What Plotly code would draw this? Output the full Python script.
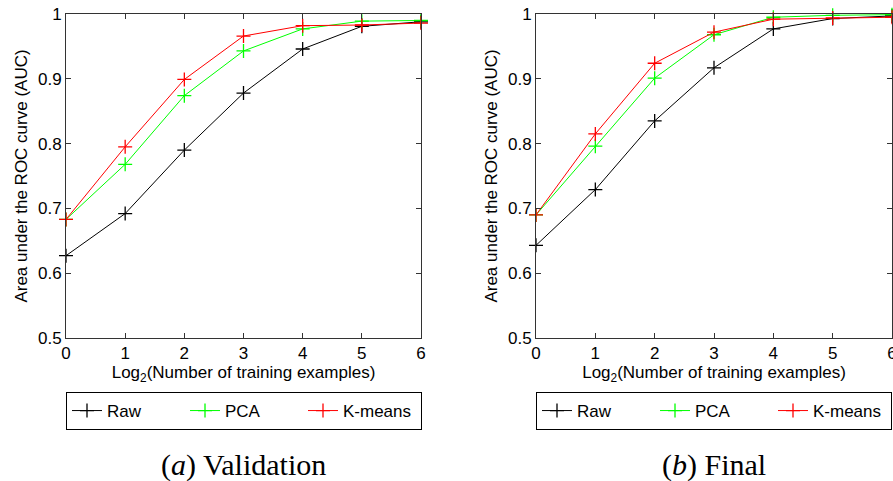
import plotly.graph_objects as go

x_vals = [0, 1, 2, 3, 4, 5, 6]

# (a) Validation
val_raw = [0.627, 0.692, 0.790, 0.878, 0.946, 0.981, 0.988]
val_pca = [0.683, 0.768, 0.874, 0.943, 0.977, 0.989, 0.990]
val_kmeans = [0.683, 0.795, 0.899, 0.966, 0.982, 0.983, 0.986]

# (b) Final
fin_raw = [0.643, 0.729, 0.835, 0.917, 0.977, 0.993, 0.997]
fin_pca = [0.690, 0.796, 0.901, 0.968, 0.995, 0.998, 0.999]
fin_kmeans = [0.690, 0.815, 0.924, 0.972, 0.992, 0.994, 0.995]

series_names = ["Raw", "PCA", "K-means"]
series_colors = ["#000000", "#00ff00", "#ff0000"]
captions = ["(<i>a</i>) Validation", "(<i>b</i>) Final"]
x_title = "Log<sub>2</sub>(Number of training examples)"
y_title = "Area under the ROC curve (AUC)"
x_ticks = [0, 1, 2, 3, 4, 5, 6]
y_ticks = [0.5, 0.6, 0.7, 0.8, 0.9, 1.0]
y_ticklabels = ["0.5", "0.6", "0.7", "0.8", "0.9", "1"]

W, H = 893, 481
fig = go.Figure()

panels = [
    ([val_raw, val_pca, val_kmeans], "x", "y", "legend"),
    ([fin_raw, fin_pca, fin_kmeans], "x2", "y2", "legend2"),
]
for data, xa, ya, lg in panels:
    for name, col, ys in zip(series_names, series_colors, data):
        fig.add_trace(go.Scatter(
            x=x_vals, y=ys, name=name, mode="lines+markers",
            xaxis=xa, yaxis=ya, legend=lg,
            line=dict(color=col, width=1),
            marker=dict(symbol="cross-thin", size=10, color=col,
                        line=dict(color=col, width=1.3)),
            hoverinfo="skip", cliponaxis=False,
        ))

px_left = [66, 536]
px_right = [421, 892]
top_px, bot_px = 14, 338
ydom = [1 - bot_px / H, 1 - top_px / H]

font_ax = dict(family="Liberation Sans, Arial", size=17, color="#000")
axcommon = dict(showline=True, linecolor="#333", linewidth=1, mirror="ticks",
                ticks="inside", ticklen=5, tickcolor="#333", showgrid=False,
                zeroline=False, tickfont=font_ax, automargin=False,
                ticklabeloverflow="allow")

for i, (xa, ya) in enumerate([("xaxis", "yaxis"), ("xaxis2", "yaxis2")]):
    xd = [px_left[i] / W, px_right[i] / W]
    anchor_y = "y" if i == 0 else "y2"
    anchor_x = "x" if i == 0 else "x2"
    fig.update_layout({
        xa: dict(domain=xd, range=[0, 6], tickvals=x_ticks, anchor=anchor_y,
                 title=dict(text=x_title, font=font_ax, standoff=2), **axcommon),
        ya: dict(domain=ydom, range=[0.5, 1], tickvals=y_ticks, ticktext=y_ticklabels,
                 anchor=anchor_x,
                 title=dict(text=y_title, font=font_ax, standoff=6), **axcommon),
    })

leg_common = dict(orientation="h", bordercolor="#000", borderwidth=1,
                  bgcolor="white", font=font_ax, xanchor="left", yanchor="top",
                  y=1 - 392 / H, entrywidth=73, entrywidthmode="pixels",
                  tracegroupgap=0, itemclick=False)
fig.update_layout(
    legend=dict(x=px_left[0] / W, **leg_common),
    legend2=dict(x=px_left[1] / W, **leg_common),
)

cap_font = dict(family="Liberation Serif, DejaVu Serif", size=30, color="#000")
for i, cap in enumerate(captions):
    fig.add_annotation(text=cap, xref="paper", yref="paper",
                       x=(px_left[i] + px_right[i]) / 2 / W, y=1 - 465 / H,
                       xanchor="center", yanchor="middle", showarrow=False,
                       font=cap_font)

fig.update_layout(width=W, height=H, margin=dict(l=0, r=0, t=0, b=0),
                  paper_bgcolor="white", plot_bgcolor="white", showlegend=True)

fig.write_html("out.html")
